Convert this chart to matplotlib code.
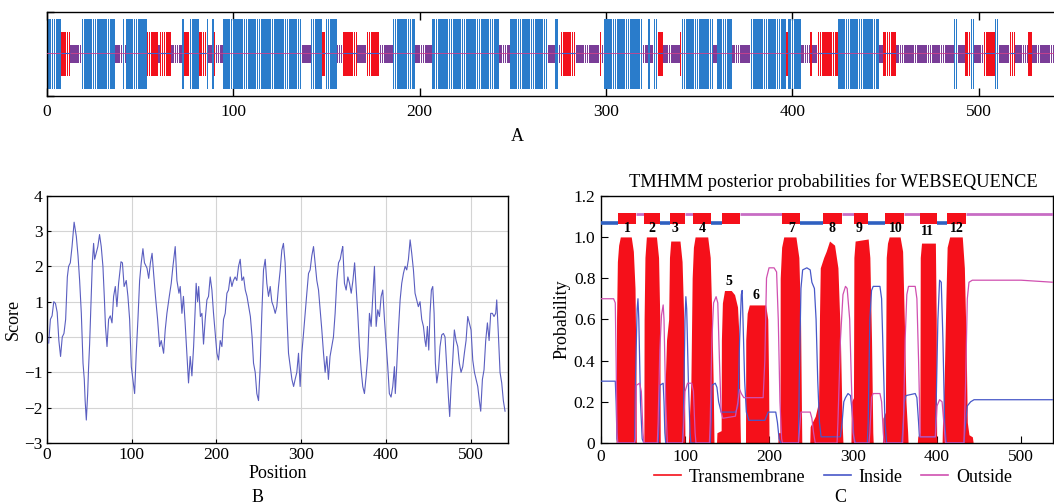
import matplotlib
matplotlib.use("Agg")
import matplotlib.pyplot as plt
from matplotlib.lines import Line2D
from matplotlib.patches import Rectangle

plt.rcParams['font.family'] = ['Liberation Serif', 'DejaVu Serif']

# ---------------- Panel A: secondary structure (per-residue classes) ----------------
ss_segments = [
    ("H", 1, 7), ("E", 8, 12), ("C", 13, 18), ("H", 19, 36), ("C", 37, 40), ("H", 41, 41),
    ("C", 42, 42), ("H", 43, 53), ("E", 54, 59), ("C", 60, 60), ("E", 61, 66), ("C", 67, 72),
    ("H", 73, 73), ("E", 74, 76), ("H", 77, 81), ("E", 82, 85), ("H", 86, 86), ("C", 87, 88),
    ("H", 89, 89), ("E", 90, 90), ("C", 91, 94), ("H", 95, 136), ("C", 137, 141), ("H", 142, 147),
    ("E", 148, 149), ("H", 150, 155), ("C", 156, 158), ("E", 159, 166), ("C", 167, 171),
    ("E", 172, 178), ("C", 179, 185), ("H", 186, 197), ("C", 198, 206), ("H", 207, 242),
    ("C", 243, 248), ("H", 249, 268), ("C", 269, 272), ("H", 273, 274), ("C", 275, 275),
    ("E", 276, 283), ("C", 284, 296), ("E", 297, 297), ("C", 298, 298), ("H", 299, 319),
    ("C", 320, 322), ("H", 323, 323), ("C", 324, 325), ("H", 326, 327), ("E", 328, 330),
    ("C", 331, 339), ("E", 340, 340), ("H", 341, 357), ("C", 358, 359), ("H", 360, 367),
    ("C", 368, 377), ("H", 378, 396), ("E", 397, 397), ("H", 398, 404), ("C", 405, 409),
    ("E", 410, 410), ("C", 411, 413), ("E", 414, 424), ("H", 425, 446), ("C", 447, 448),
    ("E", 449, 455), ("C", 456, 486), ("H", 487, 488), ("C", 489, 492), ("E", 493, 495),
    ("H", 496, 497), ("C", 498, 502), ("E", 503, 508), ("H", 509, 510), ("C", 511, 516),
    ("E", 517, 519), ("C", 520, 526), ("E", 527, 528), ("C", 529, 540),
]
ss_colors = {"H": "#2a7ccb", "E": "#f2101c", "C": "#7a3d98"}
ss_halfheight = {"H": 0.42, "E": 0.265, "C": 0.105}
a_ticks = [0, 100, 200, 300, 400, 500]

# ---------------- Panel B: hydropathy profile ----------------
hyd_x = [2, 4, 6, 8, 10, 12, 14, 16, 18, 20, 22, 24, 25.5, 27.5, 29.5, 32, 34.6, 36.6, 38.5,
         40.5, 42.5, 44, 45, 46.4, 48, 49, 50.3, 52, 53.5, 55, 56.2, 58, 60, 62, 64, 66, 67.6,
         69, 70.8, 72.7, 74.7, 76.7, 78.6, 80.6, 82.5, 84.5, 87.3, 89, 91, 93.5, 95.5, 97.5,
         99.5, 101.4, 103.4, 105.3, 107.3, 109.3, 111.2, 113.2, 115, 118, 120, 122, 124, 125.8,
         128, 130.5, 132.9, 134.8, 137.6, 139.5, 141.5, 144.3, 146.6, 148.6, 151.3, 153.3,
         155.7, 157.2, 159.2, 161, 163, 165, 167, 169, 171, 173, 175, 176, 177.7, 179, 181,
         182.8, 184.7, 186.7, 188.7, 190.6, 192.6, 194.6, 196.5, 198.5, 200.5, 202.4, 204.4,
         206.4, 208.3, 210.3, 212.3, 214.2, 216.2, 218.2, 220, 222, 224, 226, 228, 230, 232,
         234, 236, 238, 240, 242, 243.7, 245.7, 247.6, 249.6, 251.6, 253.5, 255.5, 257.5,
         259.4, 261.4, 263.4, 265.3, 267.3, 269.3, 271.2, 273.2, 275.2, 277.1, 279, 281, 283,
         285, 287, 289, 291, 292.8, 294.8, 296.8, 298.7, 300.7, 302.7, 304.6, 306.6, 308.6,
         310.5, 312.5, 314.5, 316.4, 318.4, 320.4, 322.3, 324.3, 326.3, 328.2, 330.2, 332.1,
         334, 336, 338, 340, 342, 344, 346, 348, 349, 351, 353, 355, 357, 359, 361, 363, 365,
         366.7, 368.7, 370.7, 372.6, 374.6, 376.6, 378.5, 380.5, 382.5, 384.4, 386.4, 388.4,
         390.3, 392.3, 394.3, 396.2, 398.2, 400.2, 402.1, 404, 406, 408, 410, 411, 412.7,
         414.7, 416.7, 418.6, 420.6, 422.6, 424.5, 426.5, 428.5, 430.4, 432.4, 434.3, 436.3,
         438.2, 440.2, 442.2, 444.2, 446, 447.2, 448.9, 450.5, 452, 453.6, 455.2, 456.8, 458.3,
         460, 462, 463.8, 465.8, 467.8, 469.7, 471.7, 473.7, 475.2, 476.8, 478.8, 480.7, 482.7,
         484.7, 486.6, 488.6, 490.6, 492.5, 494.5, 496.5, 498.4, 500.4, 502.4, 504.4, 506.3,
         508.3, 510.2, 511.8, 513.8, 515.7, 517.7, 519.7, 521.7, 523.6, 525.6, 527.5, 529.5,
         530.7, 532.6, 534.6, 536.6, 538.5, 540.5]
hyd_y = [-0.17, 0.5, 0.6, 1.0, 0.95, 0.7, -0.1, -0.55, 0.0, 0.1, 0.5, 1.7, 2.0, 2.1, 2.55,
         3.25, 2.85, 2.3, 1.6, 0.67, -0.74, -1.2, -1.8, -2.35, -1.6, -0.9, -0.2, 1.0, 2.1, 2.65,
         2.2, 2.37, 2.56, 2.9, 2.56, 2.0, 1.15, 0.3, -0.27, 0.5, 0.6, 0.4, 1.15, 1.43, 0.86,
         1.52, 2.13, 2.1, 1.43, 1.6, 1.15, 0.5, -0.84, -1.2, -1.6, -0.46, 0.5, 1.6, 2.1, 2.5,
         2.1, 1.95, 1.66, 2.1, 2.37, 1.8, 1.15, 0.5, -0.27, -0.1, -0.46, 0.2, 0.67, 1.15, 1.52,
         2.0, 2.56, 1.6, 1.24, 1.43, 0.67, 1.15, 0.4, -0.46, -1.3, -0.55, -1.1, -0.27, 0.86,
         1.52, 1.0, 1.43, 0.58, 0.67, -0.2, 0.5, 1.05, 1.15, 1.7, 1.33, 0.67, 0.1, -0.46, -0.65,
         -0.1, -0.27, 0.5, 0.67, 1.24, 1.33, 1.7, 1.43, 1.6, 1.7, 1.6, 2.0, 2.2, 1.6, 1.7, 1.33,
         1.15, 0.86, 0.58, 0.0, -0.74, -1.0, -1.6, -1.8, -0.84, 0.67, 1.9, 2.2, 1.52, 1.15,
         1.43, 1.0, 0.86, 0.67, 0.86, 1.43, 1.9, 2.46, 2.65, 2.1, 0.67, -0.46, -0.84, -1.2,
         -1.4, -1.2, -1.0, -0.46, -1.4, -0.46, 0.1, 0.67, 1.24, 1.8, 1.9, 2.3, 2.56, 2.1, 1.6,
         1.33, 0.77, 0.2, -0.46, -1.0, -0.55, -1.2, -0.55, -0.27, 0.0, 0.67, 1.6, 2.1, 2.2,
         2.46, 2.56, 1.52, 1.33, 1.7, 1.52, 1.24, 1.6, 2.1, 1.33, 0.67, -0.27, -0.93, -1.4,
         -1.6, -1.1, -0.55, 0.67, 0.3, 1.15, 2.0, 0.3, 0.77, 0.58, 1.15, 1.33, 0.5, -0.2, -0.84,
         -1.6, -1.7, -1.4, -0.84, -1.6, -0.84, 0.2, 1.05, 1.52, 1.8, 2.0, 1.9, 2.2, 2.75, 2.37,
         1.9, 1.24, 1.05, 0.86, 1.0, 0.5, 0.3, -0.1, -0.27, 0.3, -0.37, 0.67, 1.33, 1.43, 0.67,
         -0.74, -1.3, -0.93, -0.27, 0.06, 0.1, 0.0, -0.84, -1.7, -2.25, -1.4, -0.65, 0.2, -0.1,
         -0.27, -0.74, -1.0, -0.84, -0.46, -0.1, 0.58, 0.4, 0.2, -0.65, -1.0, -1.2, -1.4, -1.8,
         -2.1, -1.2, -0.93, -0.1, 0.4, -0.1, 0.67, 0.67, 0.58, 0.67, 1.05, 0.1, -1.0, -1.3,
         -1.8, -2.1]

# ---------------- Panel C: TMHMM posterior probabilities ----------------
tm_pts = [(0, 0), (18, 0), (18.5, 0.6), (19.5, 0.88), (21, 0.96), (23, 1.0), (36, 1.0), (38.5, 0.93),
          (40.5, 0.75), (41.5, 0.4), (42, 0),
          (51, 0), (51.3, 0.6), (52.3, 0.9), (54, 1.0), (66, 1.0), (68.5, 0.9), (70, 0.6), (70.5, 0),
          (76, 0), (76.5, 0.3), (78, 0.5), (80.5, 0.6), (81.5, 0.9), (83, 0.98), (94, 0.98), (96.5, 0.88),
          (98.5, 0.6), (100, 0),
          (104, 0), (105, 0.1), (107, 0.3), (108.5, 0.8), (110, 0.95), (112, 1.0), (127, 1.0), (130, 0.9),
          (132, 0.6), (133.5, 0.3), (134.5, 0),
          (137.5, 0), (138, 0.05), (143, 0.06), (143.3, 0.5), (144.5, 0.68), (147, 0.74), (155, 0.74),
          (159, 0.72), (162.5, 0.66), (164.5, 0.5), (165.5, 0.1), (166, 0),
          (172, 0), (172.3, 0.5), (174, 0.63), (176.5, 0.67), (196, 0.67), (198.5, 0.6), (199.5, 0.3), (200, 0),
          (210.5, 0), (211, 0.05), (213, 0.05), (213.3, 0.8), (215, 0.95), (217.5, 1.0), (232, 1.0),
          (235.5, 0.9), (237.5, 0.6), (239, 0),
          (248.5, 0), (249, 0.08), (255, 0.13), (259, 0.2), (260, 0.6), (261, 0.85), (265, 0.9),
          (268, 0.93), (272, 0.98), (278, 0.96), (282, 0.85), (285, 0.5), (287, 0.1), (288, 0),
          (297.5, 0), (298, 0.2), (300.5, 0.22), (301, 0.9), (302.5, 0.98), (318, 0.99), (320, 0.9),
          (322, 0.5), (323.5, 0.05), (324, 0),
          (335, 0), (335.5, 0.12), (338.5, 0.15), (339.5, 0.9), (341, 0.97), (343, 1.0), (356, 1.0),
          (359, 0.93), (361, 0.6), (363, 0.2), (365, 0.05), (365.5, 0),
          (376.5, 0), (377, 0.03), (379.5, 0.05), (380, 0.9), (381.5, 0.97), (398, 0.97), (399, 0.6),
          (399.5, 0.03), (400, 0),
          (406, 0), (406.5, 0.1), (408.5, 0.3), (410.5, 0.7), (412, 0.95), (415, 1.0), (430, 1.0),
          (432.5, 0.85), (434.5, 0.5), (436, 0.1), (438, 0.04), (442, 0.03), (443, 0), (538, 0)]
inside_pts = [(0, 0.3), (17, 0.3), (18, 0.2), (19, 0.02), (20, 0), (40, 0), (41, 0.3), (43, 0.65), (44, 0.7),
              (45, 0.6), (47, 0.2), (49, 0.02), (51, 0), (68, 0), (69, 0.1), (70, 0.28), (74, 0.29), (75, 0.2),
              (76, 0.05), (77, 0), (97, 0), (98, 0.1), (100, 0.6), (101, 0.71), (102, 0.65), (104, 0.3),
              (106, 0.05), (107, 0), (130, 0), (131, 0.1), (132, 0.28), (136, 0.29), (138, 0.27), (140, 0.2),
              (143, 0.15), (160, 0.15), (163, 0.18), (165, 0.5), (167, 0.72), (168, 0.74), (169, 0.6),
              (171, 0.3), (173, 0.15), (176, 0.11), (195, 0.11), (197, 0.13), (199, 0.15), (208, 0.15),
              (210, 0.1), (212, 0.02), (214, 0), (235, 0), (236, 0.3), (238, 0.75), (240, 0.84), (245, 0.85),
              (249, 0.84), (251, 0.78), (254, 0.75), (256, 0.6), (258, 0.3), (260, 0.1), (262, 0.03),
              (285, 0.03), (287, 0.1), (289, 0.2), (291, 0.22), (294, 0.24), (297, 0.23), (299, 0.15),
              (301, 0.03), (303, 0), (317, 0), (318, 0.1), (320, 0.6), (322, 0.74), (324, 0.76), (332, 0.76),
              (334, 0.7), (336, 0.4), (338, 0.1), (340, 0), (358, 0), (359, 0.05), (361, 0.2), (363, 0.23),
              (374, 0.24), (376, 0.22), (378, 0.1), (379, 0.03), (398, 0.03), (399, 0.2), (401, 0.6),
              (403, 0.79), (405, 0.78), (407, 0.5), (409, 0.1), (411, 0), (432, 0), (434, 0.1), (436, 0.18),
              (440, 0.2), (444, 0.21), (538, 0.21)]
outside_pts = [(0, 0.7), (15, 0.7), (17, 0.68), (18, 0.4), (19, 0.05), (20, 0), (40, 0), (41, 0.02), (42, 0.28),
               (46, 0.29), (48, 0.25), (50, 0.05), (51, 0), (67, 0), (68, 0.1), (70, 0.45), (72, 0.62),
               (74, 0.67), (75, 0.6), (77, 0.2), (79, 0), (97, 0), (98, 0.05), (100, 0.25), (103, 0.29),
               (108, 0.29), (110, 0.25), (112, 0.05), (113, 0), (129, 0), (130, 0.1), (132, 0.5), (134, 0.68),
               (137, 0.71), (139, 0.68), (141, 0.4), (143, 0.15), (145, 0.12), (160, 0.13), (163, 0.2),
               (165, 0.26), (167, 0.24), (170, 0.22), (193, 0.22), (195, 0.4), (197, 0.8), (200, 0.85),
               (206, 0.85), (209, 0.83), (211, 0.6), (213, 0.2), (215, 0.02), (216, 0), (235, 0), (236, 0.05),
               (238, 0.15), (249, 0.15), (251, 0.12), (253, 0.05), (255, 0), (281, 0), (282, 0.1), (285, 0.5),
               (288, 0.72), (291, 0.76), (293, 0.75), (296, 0.6), (298, 0.3), (300, 0.05), (302, 0), (319, 0),
               (320, 0.05), (322, 0.22), (324, 0.24), (332, 0.24), (334, 0.2), (336, 0.05), (337, 0), (359, 0),
               (360, 0.1), (362, 0.5), (364, 0.72), (366, 0.76), (374, 0.76), (376, 0.7), (378, 0.4),
               (380, 0.03), (398, 0.03), (400, 0.18), (403, 0.21), (406, 0.2), (408, 0.1), (410, 0), (432, 0),
               (434, 0.3), (436, 0.7), (438, 0.78), (442, 0.79), (500, 0.79), (538, 0.78)]
top_segments = [("in", 0, 20), ("tm", 20, 42), ("out", 42, 51), ("tm", 51, 70), ("in", 70, 82),
                ("tm", 82, 100), ("out", 100, 109), ("tm", 109, 131), ("in", 131, 144), ("tm", 144, 166),
                ("out", 166, 216), ("tm", 216, 237), ("in", 237, 264), ("tm", 264, 287), ("out", 287, 301),
                ("tm", 301, 318), ("in", 318, 338), ("tm", 338, 361), ("out", 361, 380), ("tm", 380, 400),
                ("in", 400, 412), ("tm", 412, 435), ("out", 435, 538)]
helix_labels = ["1", "2", "3", "4", "5", "6", "7", "8", "9", "10", "11", "12"]
helix_label_x = [32, 60, 88.6, 121, 152, 185, 227, 275, 307, 351, 388.6, 424]
helix_label_y = [1.04, 1.04, 1.04, 1.04, 0.785, 0.715, 1.04, 1.04, 1.04, 1.04, 1.025, 1.04]
legend_names = ["Transmembrane", "Inside", "Outside"]

RED = "#f5101a"
INSIDE_C = "#4858c8"
OUTSIDE_C = "#d050b0"

W, H = 1054, 504
fig = plt.figure(figsize=(W / 100, H / 100), dpi=100)

def fx(px):
    return px / W

def fy(py):
    return 1 - py / H

# ---------- Panel A ----------
axA = fig.add_axes([fx(47), fy(96), fx(1059 - 47), fy(12) - fy(96)])
for cls in ["C", "E", "H"]:
    xs = []
    for c, s, e in ss_segments:
        if c == cls:
            xs.extend(range(s, e + 1))
    hh = ss_halfheight[cls]
    axA.bar(xs, [2 * hh] * len(xs), bottom=0.5 - hh, width=0.8,
            color=ss_colors[cls], linewidth=0, zorder=2)
axA.axhline(0.51, color="#d0408a", lw=0.6, zorder=3)
for c, s, e in ss_segments:
    if c == "E":
        axA.hlines(0.51, s - 0.4, e + 0.4, color="#3a60d0", lw=0.8, zorder=4)
axA.set_xlim(0, 543)
axA.set_ylim(0, 1)
axA.set_xticks(a_ticks)
axA.set_yticks([0, 1])
axA.set_yticklabels([])
axA.tick_params(axis="x", direction="in", top=True, length=6, width=1, labelsize=12.5, pad=6)
axA.tick_params(axis="y", direction="in", length=5, width=1)
for sp in axA.spines.values():
    sp.set_linewidth(1.0)
fig.text(fx(517), fy(137), "A", ha="center", va="center", fontsize=13)

# ---------- Panel B ----------
axB = fig.add_axes([fx(47), fy(443), fx(508 - 47), fy(195.7) - fy(443)])
axB.plot(hyd_x, hyd_y, color="#5a5ec0", lw=0.8, zorder=3)
axB.set_xlim(0, 544)
axB.set_ylim(-3, 4)
axB.set_xticks([0, 100, 200, 300, 400, 500])
axB.set_yticks([-3, -2, -1, 0, 1, 2, 3, 4])
axB.grid(True, color="#d4d4d4", lw=0.8)
axB.tick_params(direction="in", length=3, labelsize=12.5, pad=3)
axB.set_xlabel("Position", fontsize=13, labelpad=1)
axB.set_ylabel("Score", fontsize=13, labelpad=2)
for sp in axB.spines.values():
    sp.set_linewidth(1.0)
fig.text(fx(258), fy(497), "B", ha="center", va="center", fontsize=13)

# ---------- Panel C ----------
axC = fig.add_axes([fx(601), fy(443), fx(1053 - 601), fy(195.7) - fy(443)])
tmx, tmy = zip(*tm_pts)
axC.fill_between(tmx, 0, tmy, color=RED, lw=0, zorder=2)
ix, iy = zip(*inside_pts)
ox, oy = zip(*outside_pts)
axC.plot(ix, iy, color=INSIDE_C, lw=0.9, zorder=3)
axC.plot(ox, oy, color=OUTSIDE_C, lw=0.9, zorder=3)
for kind, s, e in top_segments:
    if kind == "in":
        axC.plot([s, e], [1.066, 1.066], color="#2f60c0", lw=2.6, solid_capstyle="butt", zorder=3)
    elif kind == "out":
        axC.plot([s, e], [1.113, 1.113], color="#c86cc4", lw=2.0, solid_capstyle="butt", zorder=3)
    else:
        axC.add_patch(Rectangle((s, 1.064), e - s, 0.053, facecolor=RED, edgecolor="none", zorder=4))
for t, x, y in zip(helix_labels, helix_label_x, helix_label_y):
    axC.text(x, y, t, ha="center", va="center", fontsize=10, fontweight="bold", zorder=5)
axC.set_xlim(0, 538)
axC.set_ylim(0, 1.2)
axC.set_xticks([0, 100, 200, 300, 400, 500])
axC.set_yticks([0, 0.2, 0.4, 0.6, 0.8, 1.0, 1.2])
axC.set_yticklabels(["0", "0.2", "0.4", "0.6", "0.8", "1.0", "1.2"])
axC.tick_params(direction="in", length=5, labelsize=12.5, pad=4)
axC.set_ylabel("Probability", fontsize=13, labelpad=2)
axC.set_title("TMHMM posterior probabilities for WEBSEQUENCE", fontsize=13.2, pad=6, x=0.513)
for sp in axC.spines.values():
    sp.set_linewidth(1.0)
handles = [Line2D([], [], color=RED, lw=1.2),
           Line2D([], [], color=INSIDE_C, lw=1.2),
           Line2D([], [], color=OUTSIDE_C, lw=1.2)]
axC.legend(handles, legend_names, loc="center", bbox_to_anchor=(0.513, -0.138), ncol=3,
           frameon=False, fontsize=13, handlelength=1.5, handletextpad=0.45, columnspacing=1.0,
           borderaxespad=0, borderpad=0)
fig.text(fx(840), fy(497), "C", ha="center", va="center", fontsize=13)

fig.savefig("out.png", dpi=100)
